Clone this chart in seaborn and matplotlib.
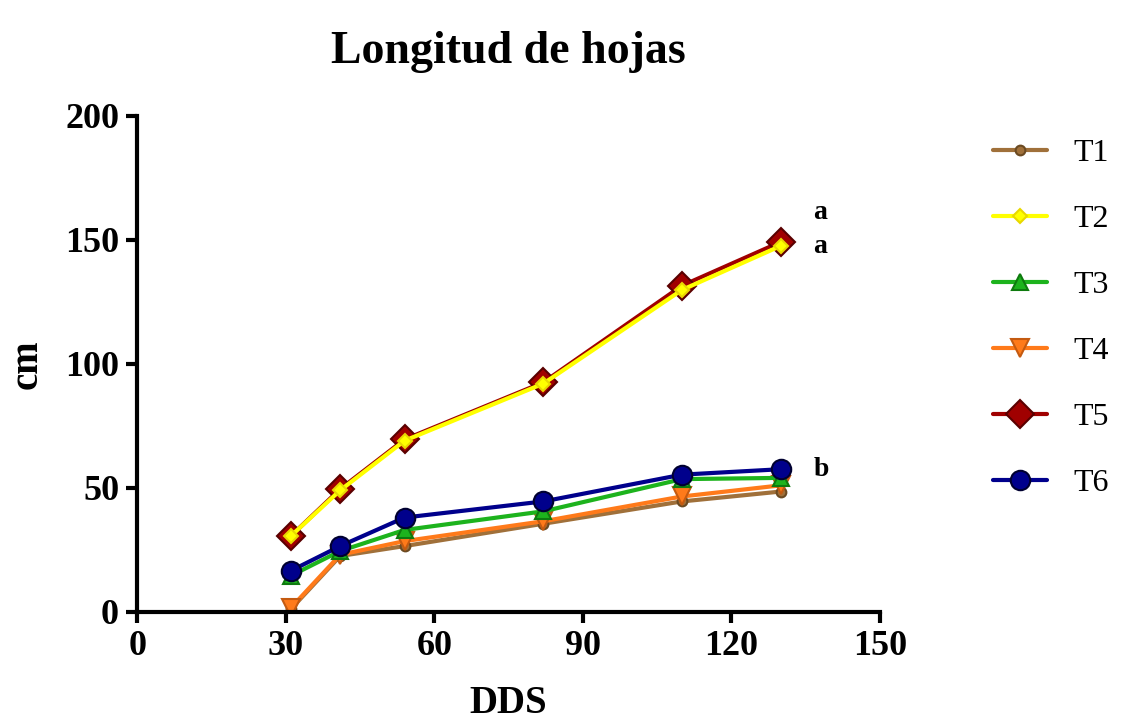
import numpy as np
import pandas as pd
import matplotlib
matplotlib.use("Agg")
import matplotlib.pyplot as plt
import seaborn as sns

# days after sowing (DDS)
dds = [31, 41, 54, 82, 110, 130]

t1 = [1.0, 22.5, 26.5, 35.5, 44.5, 48.5]
t2 = [30.5, 49.0, 69.0, 92.0, 129.8, 147.6]
t3 = [14.5, 24.5, 33.0, 40.5, 53.5, 54.0]
t4 = [1.5, 23.0, 28.5, 36.5, 46.5, 51.0]
t5 = [30.5, 49.5, 69.5, 92.5, 131.5, 149.2]
t6 = [16.5, 26.5, 38.0, 44.5, 55.3, 57.5]

series = {"T1": t1, "T2": t2, "T3": t3, "T4": t4, "T5": t5, "T6": t6}
labels = ["T1", "T2", "T3", "T4", "T5", "T6"]

letters = ["a", "a", "b"]
letter_y = [161, 147.5, 57.5]

sns.set_theme(style="ticks")
plt.rcParams["font.family"] = ["Liberation Serif", "DejaVu Serif"]
plt.rcParams["text.color"] = "black"
plt.rcParams["axes.labelcolor"] = "black"
plt.rcParams["xtick.color"] = "black"
plt.rcParams["ytick.color"] = "black"

colors = {"T1": "#A0703A", "T2": "#FFFF00", "T3": "#1DB31D",
          "T4": "#FF7A1A", "T5": "#A00000", "T6": "#00008C"}
edges = {"T1": "#6B4A22", "T2": "#E8D800", "T3": "#0E7A0E",
         "T4": "#C45A10", "T5": "#5A0000", "T6": "#000030"}
markers = {"T1": "o", "T2": "D", "T3": "^", "T4": "v", "T5": "D", "T6": "o"}
msize = {"T1": 7, "T2": 7, "T3": 11, "T4": 13, "T5": 14, "T6": 14}

fig = plt.figure(figsize=(11.24, 7.24), dpi=100)
ax = fig.add_axes([0.122, 0.155, 0.661, 0.685])

df = pd.DataFrame({"DDS": dds * len(labels),
                   "cm": sum([series[k] for k in labels], []),
                   "trat": np.repeat(labels, len(dds))})

# draw order: put yellow on top of dark red
draw_order = ["T1", "T4", "T3", "T6", "T5", "T2"]
for k in draw_order:
    sub = df[df["trat"] == k]
    sns.lineplot(data=sub, x="DDS", y="cm", ax=ax, color=colors[k],
                 linewidth=3, marker=markers[k], markersize=msize[k],
                 markerfacecolor=colors[k], markeredgecolor=edges[k],
                 markeredgewidth=1.5, label=k)

for l, yv in zip(letters, letter_y):
    ax.text(136.5, yv, l, fontsize=20, fontweight="bold", va="center", ha="left")

ax.set_xlim(0, 150)
ax.set_ylim(0, 200)
ax.set_xticks([0, 30, 60, 90, 120, 150])
ax.set_yticks([0, 50, 100, 150, 200])
sns.despine(ax=ax)
for s in ["left", "bottom"]:
    ax.spines[s].set_linewidth(3)
    ax.spines[s].set_color("black")
ax.tick_params(width=3, length=8, color="black", labelsize=26, pad=5)
for lab in ax.get_xticklabels() + ax.get_yticklabels():
    lab.set_fontweight("bold")

ax.set_xlabel("DDS", fontsize=28, fontweight="bold", labelpad=16)
ax.set_ylabel("cm", fontsize=28, fontweight="bold", labelpad=14)
ax.set_title("Longitud de hojas", fontsize=33, fontweight="bold", pad=38)

handles, labs = ax.get_legend_handles_labels()
hmap = dict(zip(labs, handles))
ax.get_legend().remove()
fig.legend([hmap[k] for k in labels], labels, loc="center left",
           bbox_to_anchor=(0.858, 0.56), frameon=False, fontsize=23,
           handlelength=1.7, labelspacing=1.15, handletextpad=0.8)

fig.savefig("out.png", dpi=100)
